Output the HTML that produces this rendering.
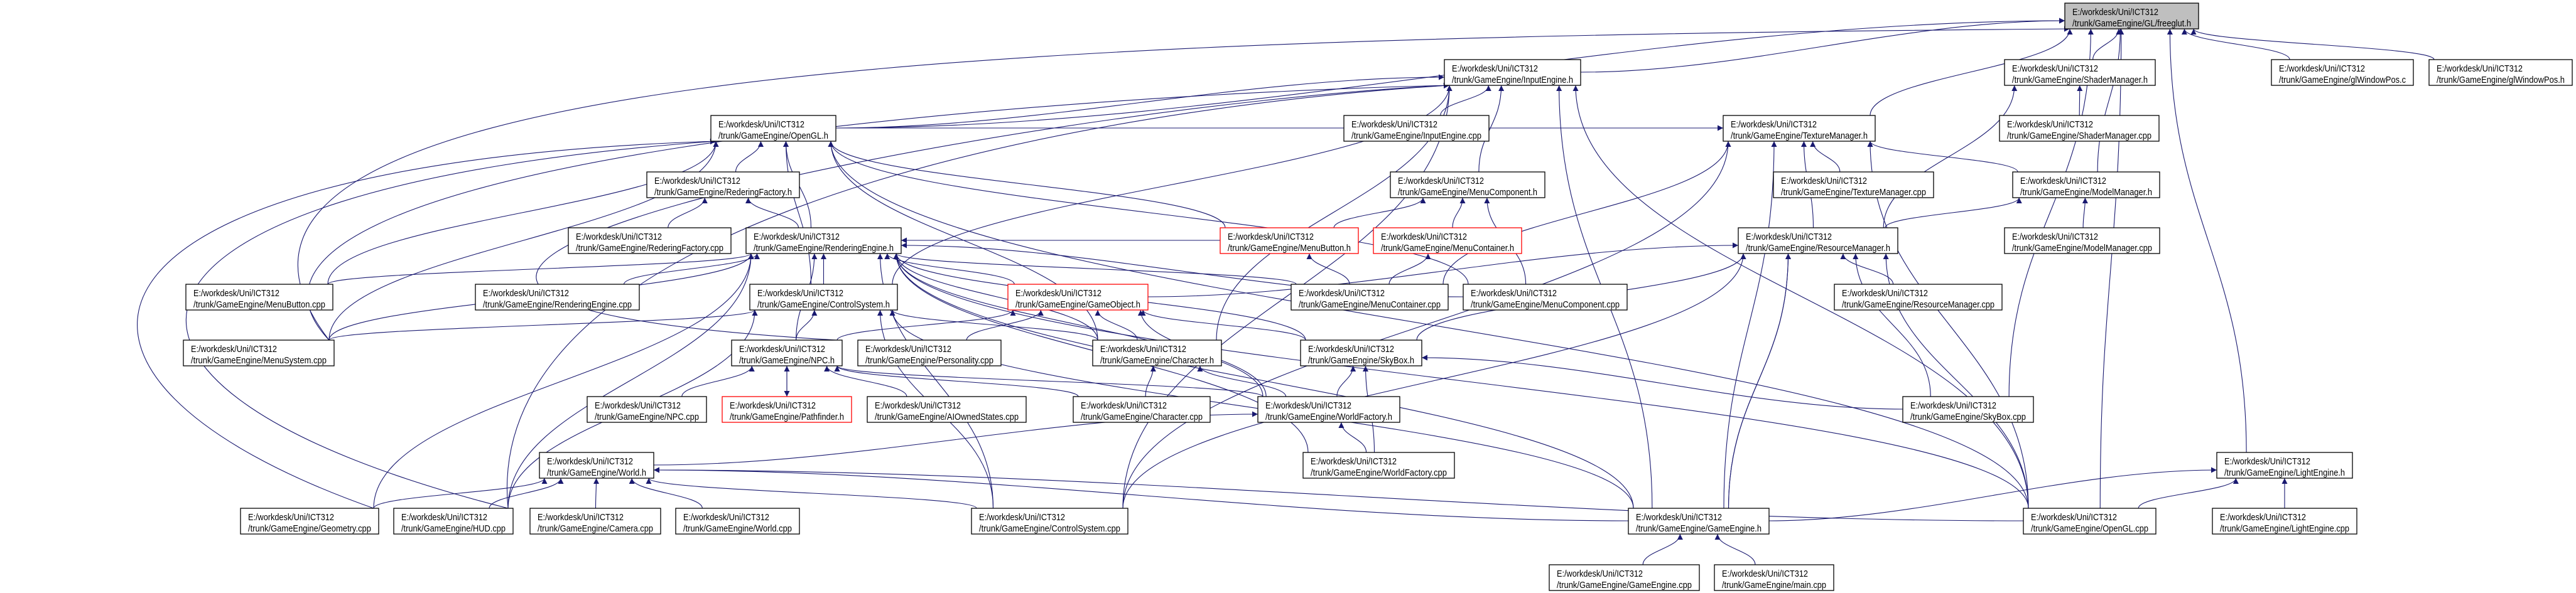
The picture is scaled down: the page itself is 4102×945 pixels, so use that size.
<!DOCTYPE html>
<html><head><meta charset="utf-8">
<style>
html,body{margin:0;padding:0;background:#fff;}
svg{display:block;}
text{font-family:"Liberation Sans",Arial,sans-serif;font-size:15px;fill:#000;}
</style></head>
<body>
<svg id="g" width="4102" height="945" viewBox="0 0 4102 945" xmlns="http://www.w3.org/2000/svg">
<defs>
<marker id="a" viewBox="0 0 10 10" refX="10" refY="5" markerWidth="11" markerHeight="9" orient="auto" markerUnits="userSpaceOnUse">
<path d="M0,0 L10,5 L0,10 z" fill="#191970"/>
</marker>
</defs>
<g id="edges" fill="none" stroke="#191970" stroke-width="1.1"></g>
<g id="nodes">
<rect x="3288" y="5" width="213" height="41" fill="#bfbfbf" stroke="#000" stroke-width="1.3"/><text x="3300" y="24" textLength="137" lengthAdjust="spacingAndGlyphs">E:/workdesk/Uni/ICT312</text><text x="3300" y="42" textLength="189" lengthAdjust="spacingAndGlyphs">/trunk/GameEngine/GL/freeglut.h</text>
<rect x="2300" y="95" width="217" height="41" fill="#fff" stroke="#000" stroke-width="1.3"/><text x="2312" y="114" textLength="137" lengthAdjust="spacingAndGlyphs">E:/workdesk/Uni/ICT312</text><text x="2312" y="132" textLength="193" lengthAdjust="spacingAndGlyphs">/trunk/GameEngine/InputEngine.h</text>
<rect x="3192" y="95" width="240" height="41" fill="#fff" stroke="#000" stroke-width="1.3"/><text x="3204" y="114" textLength="137" lengthAdjust="spacingAndGlyphs">E:/workdesk/Uni/ICT312</text><text x="3204" y="132" textLength="216" lengthAdjust="spacingAndGlyphs">/trunk/GameEngine/ShaderManager.h</text>
<rect x="3617" y="95" width="226" height="41" fill="#fff" stroke="#000" stroke-width="1.3"/><text x="3629" y="114" textLength="137" lengthAdjust="spacingAndGlyphs">E:/workdesk/Uni/ICT312</text><text x="3629" y="132" textLength="202" lengthAdjust="spacingAndGlyphs">/trunk/GameEngine/glWindowPos.c</text>
<rect x="3868" y="95" width="228" height="41" fill="#fff" stroke="#000" stroke-width="1.3"/><text x="3880" y="114" textLength="137" lengthAdjust="spacingAndGlyphs">E:/workdesk/Uni/ICT312</text><text x="3880" y="132" textLength="204" lengthAdjust="spacingAndGlyphs">/trunk/GameEngine/glWindowPos.h</text>
<rect x="1132" y="184" width="199" height="41" fill="#fff" stroke="#000" stroke-width="1.3"/><text x="1144" y="203" textLength="137" lengthAdjust="spacingAndGlyphs">E:/workdesk/Uni/ICT312</text><text x="1144" y="221" textLength="175" lengthAdjust="spacingAndGlyphs">/trunk/GameEngine/OpenGL.h</text>
<rect x="2140" y="184" width="231" height="41" fill="#fff" stroke="#000" stroke-width="1.3"/><text x="2152" y="203" textLength="137" lengthAdjust="spacingAndGlyphs">E:/workdesk/Uni/ICT312</text><text x="2152" y="221" textLength="207" lengthAdjust="spacingAndGlyphs">/trunk/GameEngine/InputEngine.cpp</text>
<rect x="2744" y="184" width="242" height="41" fill="#fff" stroke="#000" stroke-width="1.3"/><text x="2756" y="203" textLength="137" lengthAdjust="spacingAndGlyphs">E:/workdesk/Uni/ICT312</text><text x="2756" y="221" textLength="218" lengthAdjust="spacingAndGlyphs">/trunk/GameEngine/TextureManager.h</text>
<rect x="3184" y="184" width="254" height="41" fill="#fff" stroke="#000" stroke-width="1.3"/><text x="3196" y="203" textLength="137" lengthAdjust="spacingAndGlyphs">E:/workdesk/Uni/ICT312</text><text x="3196" y="221" textLength="230" lengthAdjust="spacingAndGlyphs">/trunk/GameEngine/ShaderManager.cpp</text>
<rect x="1030" y="274" width="243" height="41" fill="#fff" stroke="#000" stroke-width="1.3"/><text x="1042" y="293" textLength="137" lengthAdjust="spacingAndGlyphs">E:/workdesk/Uni/ICT312</text><text x="1042" y="311" textLength="219" lengthAdjust="spacingAndGlyphs">/trunk/GameEngine/RederingFactory.h</text>
<rect x="2214" y="274" width="246" height="41" fill="#fff" stroke="#000" stroke-width="1.3"/><text x="2226" y="293" textLength="137" lengthAdjust="spacingAndGlyphs">E:/workdesk/Uni/ICT312</text><text x="2226" y="311" textLength="222" lengthAdjust="spacingAndGlyphs">/trunk/GameEngine/MenuComponent.h</text>
<rect x="2824" y="274" width="255" height="41" fill="#fff" stroke="#000" stroke-width="1.3"/><text x="2836" y="293" textLength="137" lengthAdjust="spacingAndGlyphs">E:/workdesk/Uni/ICT312</text><text x="2836" y="311" textLength="231" lengthAdjust="spacingAndGlyphs">/trunk/GameEngine/TextureManager.cpp</text>
<rect x="3205" y="274" width="234" height="41" fill="#fff" stroke="#000" stroke-width="1.3"/><text x="3217" y="293" textLength="137" lengthAdjust="spacingAndGlyphs">E:/workdesk/Uni/ICT312</text><text x="3217" y="311" textLength="210" lengthAdjust="spacingAndGlyphs">/trunk/GameEngine/ModelManager.h</text>
<rect x="905" y="363" width="259" height="41" fill="#fff" stroke="#000" stroke-width="1.3"/><text x="917" y="382" textLength="137" lengthAdjust="spacingAndGlyphs">E:/workdesk/Uni/ICT312</text><text x="917" y="400" textLength="235" lengthAdjust="spacingAndGlyphs">/trunk/GameEngine/RederingFactory.cpp</text>
<rect x="1188" y="363" width="247" height="41" fill="#fff" stroke="#000" stroke-width="1.3"/><text x="1200" y="382" textLength="137" lengthAdjust="spacingAndGlyphs">E:/workdesk/Uni/ICT312</text><text x="1200" y="400" textLength="223" lengthAdjust="spacingAndGlyphs">/trunk/GameEngine/RenderingEngine.h</text>
<rect x="1943" y="363" width="220" height="41" fill="#fff" stroke="#f00" stroke-width="1.3"/><text x="1955" y="382" textLength="137" lengthAdjust="spacingAndGlyphs">E:/workdesk/Uni/ICT312</text><text x="1955" y="400" textLength="196" lengthAdjust="spacingAndGlyphs">/trunk/GameEngine/MenuButton.h</text>
<rect x="2187" y="363" width="236" height="41" fill="#fff" stroke="#f00" stroke-width="1.3"/><text x="2199" y="382" textLength="137" lengthAdjust="spacingAndGlyphs">E:/workdesk/Uni/ICT312</text><text x="2199" y="400" textLength="212" lengthAdjust="spacingAndGlyphs">/trunk/GameEngine/MenuContainer.h</text>
<rect x="2768" y="363" width="254" height="41" fill="#fff" stroke="#000" stroke-width="1.3"/><text x="2780" y="382" textLength="137" lengthAdjust="spacingAndGlyphs">E:/workdesk/Uni/ICT312</text><text x="2780" y="400" textLength="230" lengthAdjust="spacingAndGlyphs">/trunk/GameEngine/ResourceManager.h</text>
<rect x="3192" y="363" width="247" height="41" fill="#fff" stroke="#000" stroke-width="1.3"/><text x="3204" y="382" textLength="137" lengthAdjust="spacingAndGlyphs">E:/workdesk/Uni/ICT312</text><text x="3204" y="400" textLength="223" lengthAdjust="spacingAndGlyphs">/trunk/GameEngine/ModelManager.cpp</text>
<rect x="296" y="453" width="234" height="41" fill="#fff" stroke="#000" stroke-width="1.3"/><text x="308" y="472" textLength="137" lengthAdjust="spacingAndGlyphs">E:/workdesk/Uni/ICT312</text><text x="308" y="490" textLength="210" lengthAdjust="spacingAndGlyphs">/trunk/GameEngine/MenuButton.cpp</text>
<rect x="757" y="453" width="261" height="41" fill="#fff" stroke="#000" stroke-width="1.3"/><text x="769" y="472" textLength="137" lengthAdjust="spacingAndGlyphs">E:/workdesk/Uni/ICT312</text><text x="769" y="490" textLength="237" lengthAdjust="spacingAndGlyphs">/trunk/GameEngine/RenderingEngine.cpp</text>
<rect x="1194" y="453" width="235" height="41" fill="#fff" stroke="#000" stroke-width="1.3"/><text x="1206" y="472" textLength="137" lengthAdjust="spacingAndGlyphs">E:/workdesk/Uni/ICT312</text><text x="1206" y="490" textLength="211" lengthAdjust="spacingAndGlyphs">/trunk/GameEngine/ControlSystem.h</text>
<rect x="1605" y="453" width="223" height="41" fill="#fff" stroke="#f00" stroke-width="1.3"/><text x="1617" y="472" textLength="137" lengthAdjust="spacingAndGlyphs">E:/workdesk/Uni/ICT312</text><text x="1617" y="490" textLength="199" lengthAdjust="spacingAndGlyphs">/trunk/GameEngine/GameObject.h</text>
<rect x="2056" y="453" width="250" height="41" fill="#fff" stroke="#000" stroke-width="1.3"/><text x="2068" y="472" textLength="137" lengthAdjust="spacingAndGlyphs">E:/workdesk/Uni/ICT312</text><text x="2068" y="490" textLength="226" lengthAdjust="spacingAndGlyphs">/trunk/GameEngine/MenuContainer.cpp</text>
<rect x="2330" y="453" width="261" height="41" fill="#fff" stroke="#000" stroke-width="1.3"/><text x="2342" y="472" textLength="137" lengthAdjust="spacingAndGlyphs">E:/workdesk/Uni/ICT312</text><text x="2342" y="490" textLength="237" lengthAdjust="spacingAndGlyphs">/trunk/GameEngine/MenuComponent.cpp</text>
<rect x="2921" y="453" width="267" height="41" fill="#fff" stroke="#000" stroke-width="1.3"/><text x="2933" y="472" textLength="137" lengthAdjust="spacingAndGlyphs">E:/workdesk/Uni/ICT312</text><text x="2933" y="490" textLength="243" lengthAdjust="spacingAndGlyphs">/trunk/GameEngine/ResourceManager.cpp</text>
<rect x="292" y="542" width="240" height="41" fill="#fff" stroke="#000" stroke-width="1.3"/><text x="304" y="561" textLength="137" lengthAdjust="spacingAndGlyphs">E:/workdesk/Uni/ICT312</text><text x="304" y="579" textLength="216" lengthAdjust="spacingAndGlyphs">/trunk/GameEngine/MenuSystem.cpp</text>
<rect x="1165" y="542" width="176" height="41" fill="#fff" stroke="#000" stroke-width="1.3"/><text x="1177" y="561" textLength="137" lengthAdjust="spacingAndGlyphs">E:/workdesk/Uni/ICT312</text><text x="1177" y="579" textLength="152" lengthAdjust="spacingAndGlyphs">/trunk/GameEngine/NPC.h</text>
<rect x="1366" y="542" width="228" height="41" fill="#fff" stroke="#000" stroke-width="1.3"/><text x="1378" y="561" textLength="137" lengthAdjust="spacingAndGlyphs">E:/workdesk/Uni/ICT312</text><text x="1378" y="579" textLength="204" lengthAdjust="spacingAndGlyphs">/trunk/GameEngine/Personality.cpp</text>
<rect x="1740" y="542" width="205" height="41" fill="#fff" stroke="#000" stroke-width="1.3"/><text x="1752" y="561" textLength="137" lengthAdjust="spacingAndGlyphs">E:/workdesk/Uni/ICT312</text><text x="1752" y="579" textLength="181" lengthAdjust="spacingAndGlyphs">/trunk/GameEngine/Character.h</text>
<rect x="2071" y="542" width="193" height="41" fill="#fff" stroke="#000" stroke-width="1.3"/><text x="2083" y="561" textLength="137" lengthAdjust="spacingAndGlyphs">E:/workdesk/Uni/ICT312</text><text x="2083" y="579" textLength="169" lengthAdjust="spacingAndGlyphs">/trunk/GameEngine/SkyBox.h</text>
<rect x="935" y="632" width="190" height="41" fill="#fff" stroke="#000" stroke-width="1.3"/><text x="947" y="651" textLength="137" lengthAdjust="spacingAndGlyphs">E:/workdesk/Uni/ICT312</text><text x="947" y="669" textLength="166" lengthAdjust="spacingAndGlyphs">/trunk/GameEngine/NPC.cpp</text>
<rect x="1150" y="632" width="206" height="41" fill="#fff" stroke="#f00" stroke-width="1.3"/><text x="1162" y="651" textLength="137" lengthAdjust="spacingAndGlyphs">E:/workdesk/Uni/ICT312</text><text x="1162" y="669" textLength="182" lengthAdjust="spacingAndGlyphs">/trunk/GameEngine/Pathfinder.h</text>
<rect x="1381" y="632" width="253" height="41" fill="#fff" stroke="#000" stroke-width="1.3"/><text x="1393" y="651" textLength="137" lengthAdjust="spacingAndGlyphs">E:/workdesk/Uni/ICT312</text><text x="1393" y="669" textLength="229" lengthAdjust="spacingAndGlyphs">/trunk/GameEngine/AIOwnedStates.cpp</text>
<rect x="1709" y="632" width="218" height="41" fill="#fff" stroke="#000" stroke-width="1.3"/><text x="1721" y="651" textLength="137" lengthAdjust="spacingAndGlyphs">E:/workdesk/Uni/ICT312</text><text x="1721" y="669" textLength="194" lengthAdjust="spacingAndGlyphs">/trunk/GameEngine/Character.cpp</text>
<rect x="2003" y="632" width="226" height="41" fill="#fff" stroke="#000" stroke-width="1.3"/><text x="2015" y="651" textLength="137" lengthAdjust="spacingAndGlyphs">E:/workdesk/Uni/ICT312</text><text x="2015" y="669" textLength="202" lengthAdjust="spacingAndGlyphs">/trunk/GameEngine/WorldFactory.h</text>
<rect x="3030" y="632" width="208" height="41" fill="#fff" stroke="#000" stroke-width="1.3"/><text x="3042" y="651" textLength="137" lengthAdjust="spacingAndGlyphs">E:/workdesk/Uni/ICT312</text><text x="3042" y="669" textLength="184" lengthAdjust="spacingAndGlyphs">/trunk/GameEngine/SkyBox.cpp</text>
<rect x="859" y="721" width="182" height="41" fill="#fff" stroke="#000" stroke-width="1.3"/><text x="871" y="740" textLength="137" lengthAdjust="spacingAndGlyphs">E:/workdesk/Uni/ICT312</text><text x="871" y="758" textLength="158" lengthAdjust="spacingAndGlyphs">/trunk/GameEngine/World.h</text>
<rect x="2075" y="721" width="241" height="41" fill="#fff" stroke="#000" stroke-width="1.3"/><text x="2087" y="740" textLength="137" lengthAdjust="spacingAndGlyphs">E:/workdesk/Uni/ICT312</text><text x="2087" y="758" textLength="217" lengthAdjust="spacingAndGlyphs">/trunk/GameEngine/WorldFactory.cpp</text>
<rect x="3530" y="721" width="216" height="41" fill="#fff" stroke="#000" stroke-width="1.3"/><text x="3542" y="740" textLength="137" lengthAdjust="spacingAndGlyphs">E:/workdesk/Uni/ICT312</text><text x="3542" y="758" textLength="192" lengthAdjust="spacingAndGlyphs">/trunk/GameEngine/LightEngine.h</text>
<rect x="383" y="810" width="220" height="41" fill="#fff" stroke="#000" stroke-width="1.3"/><text x="395" y="829" textLength="137" lengthAdjust="spacingAndGlyphs">E:/workdesk/Uni/ICT312</text><text x="395" y="847" textLength="196" lengthAdjust="spacingAndGlyphs">/trunk/GameEngine/Geometry.cpp</text>
<rect x="627" y="810" width="190" height="41" fill="#fff" stroke="#000" stroke-width="1.3"/><text x="639" y="829" textLength="137" lengthAdjust="spacingAndGlyphs">E:/workdesk/Uni/ICT312</text><text x="639" y="847" textLength="166" lengthAdjust="spacingAndGlyphs">/trunk/GameEngine/HUD.cpp</text>
<rect x="844" y="810" width="208" height="41" fill="#fff" stroke="#000" stroke-width="1.3"/><text x="856" y="829" textLength="137" lengthAdjust="spacingAndGlyphs">E:/workdesk/Uni/ICT312</text><text x="856" y="847" textLength="184" lengthAdjust="spacingAndGlyphs">/trunk/GameEngine/Camera.cpp</text>
<rect x="1076" y="810" width="197" height="41" fill="#fff" stroke="#000" stroke-width="1.3"/><text x="1088" y="829" textLength="137" lengthAdjust="spacingAndGlyphs">E:/workdesk/Uni/ICT312</text><text x="1088" y="847" textLength="173" lengthAdjust="spacingAndGlyphs">/trunk/GameEngine/World.cpp</text>
<rect x="1547" y="810" width="249" height="41" fill="#fff" stroke="#000" stroke-width="1.3"/><text x="1559" y="829" textLength="137" lengthAdjust="spacingAndGlyphs">E:/workdesk/Uni/ICT312</text><text x="1559" y="847" textLength="225" lengthAdjust="spacingAndGlyphs">/trunk/GameEngine/ControlSystem.cpp</text>
<rect x="2593" y="810" width="224" height="41" fill="#fff" stroke="#000" stroke-width="1.3"/><text x="2605" y="829" textLength="137" lengthAdjust="spacingAndGlyphs">E:/workdesk/Uni/ICT312</text><text x="2605" y="847" textLength="200" lengthAdjust="spacingAndGlyphs">/trunk/GameEngine/GameEngine.h</text>
<rect x="3222" y="810" width="211" height="41" fill="#fff" stroke="#000" stroke-width="1.3"/><text x="3234" y="829" textLength="137" lengthAdjust="spacingAndGlyphs">E:/workdesk/Uni/ICT312</text><text x="3234" y="847" textLength="187" lengthAdjust="spacingAndGlyphs">/trunk/GameEngine/OpenGL.cpp</text>
<rect x="3523" y="810" width="230" height="41" fill="#fff" stroke="#000" stroke-width="1.3"/><text x="3535" y="829" textLength="137" lengthAdjust="spacingAndGlyphs">E:/workdesk/Uni/ICT312</text><text x="3535" y="847" textLength="206" lengthAdjust="spacingAndGlyphs">/trunk/GameEngine/LightEngine.cpp</text>
<rect x="2467" y="900" width="239" height="41" fill="#fff" stroke="#000" stroke-width="1.3"/><text x="2479" y="919" textLength="137" lengthAdjust="spacingAndGlyphs">E:/workdesk/Uni/ICT312</text><text x="2479" y="937" textLength="215" lengthAdjust="spacingAndGlyphs">/trunk/GameEngine/GameEngine.cpp</text>
<rect x="2730" y="900" width="190" height="41" fill="#fff" stroke="#000" stroke-width="1.3"/><text x="2742" y="919" textLength="137" lengthAdjust="spacingAndGlyphs">E:/workdesk/Uni/ICT312</text><text x="2742" y="937" textLength="166" lengthAdjust="spacingAndGlyphs">/trunk/GameEngine/main.cpp</text>
</g>
</svg>
<script>
(function(){
var N={
fg:[3288,5,213],ie:[2300,95,217],shm:[3192,95,240],wpc:[3617,95,226],wph:[3868,95,228],
ogh:[1132,184,199],iec:[2140,184,231],tmh:[2744,184,242],shc:[3184,184,254],
rfh:[1030,274,243],mch:[2214,274,246],tmc:[2824,274,255],mmh:[3205,274,234],
rfc:[905,363,259],reh:[1188,363,247],mbh:[1943,363,220],mcth:[2187,363,236],rmh:[2768,363,254],mmc:[3192,363,247],
mbc:[296,453,234],rec:[757,453,261],csh:[1194,453,235],goh:[1605,453,223],mctc:[2056,453,250],mcc:[2330,453,261],rmc:[2921,453,267],
msc:[292,542,240],npch:[1165,542,176],pers:[1366,542,228],chh:[1740,542,205],skh:[2071,542,193],
npcc:[935,632,190],pfh:[1150,632,206],aio:[1381,632,253],chc:[1709,632,218],wfh:[2003,632,226],skc:[3030,632,208],
wh:[859,721,182],wfc:[2075,721,241],leh:[3530,721,216],
geo:[383,810,220],hud:[627,810,190],cam:[844,810,208],wc:[1076,810,197],csc:[1547,810,249],geh:[2593,810,224],ogc:[3222,810,211],lec:[3523,810,230],
gec:[2467,900,239],main:[2730,900,190]};
var E=[
['ogh','fg'],['ie','fg'],['shm','fg'],['tmh','fg'],['mmh','fg'],['skc','fg'],['ogc','fg'],['leh','fg'],['wpc','fg'],['wph','fg'],['msc','fg',[200,120,1500,60]],
['iec','ie'],['mch','ie'],['geh','ie'],['csc','ie'],['chh','ie'],['csh','ie'],['ogc','ie'],['ogh','ie'],['msc','ie',[250,250,1700,150]],['npch','ie',[80,470,1600,170]],
['shc','shm'],['rmh','shm'],
['tmc','tmh'],['mmh','tmh'],['rmh','tmh'],['ogc','tmh'],['mctc','tmh'],['geh','tmh'],['csc','tmh'],['ogh','tmh'],
['mmc','mmh'],['rmh','mmh'],
['rmc','rmh'],['skc','rmh'],['ogc','rmh'],['geh','rmh'],['skh','rmh'],['csc','rmh'],['goh','rmh'],['geh','rmh'],
['mbh','mch'],['mcth','mch'],['mcc','mch'],
['mctc','mbh'],['mctc','mcth'],
['rfh','ogh'],['reh','ogh'],['mbc','ogh'],['msc','ogh'],['geo','ogh',[0,600,60,260]],['hud','ogh',[60,620,100,300]],['mcc','ogh'],['chh','ogh'],['ogc','ogh'],['mbh','ogh'],['csh','ogh'],
['rfc','rfh'],['reh','rfh'],
['rec','reh'],['mbc','reh'],['csh','reh'],['npch','reh'],['goh','reh'],['chh','reh'],['skh','reh'],['wfh','reh'],['mctc','reh'],['mcc','reh'],['mbh','reh'],['geh','reh'],['ogc','reh'],['geo','reh'],['hud','reh'],['msc','reh'],['csc','reh'],['wfc','reh'],
['msc','csh'],['npch','csh'],['chh','csh'],['hud','csh'],['csc','csh'],['geh','csh'],
['npch','goh'],['chh','goh'],['skh','goh'],['wfh','goh'],['pers','goh'],
['npcc','npch'],['pfh','npch'],['aio','npch'],['wfh','npch'],['chc','npch'],['npch','pfh'],
['chc','chh'],['wfh','chh'],['wfh','skh'],['skc','skh'],['wfc','skh'],
['wfc','wfh'],['wh','wfh'],
['geo','wh'],['hud','wh'],['cam','wh'],['wc','wh'],['csc','wh'],['geh','wh'],['ogc','wh'],['hud','ie',[760,300,1900,160]],
['gec','geh'],['main','geh'],
['lec','leh'],['geh','leh'],['ogc','leh']
];
var g=document.getElementById('edges'),ns='http://www.w3.org/2000/svg';
function cl(v,a,b){return Math.max(a,Math.min(b,v));}
E.forEach(function(e){
var s=N[e[0]],t=N[e[1]];if(!s||!t)return;
var scx=s[0]+s[2]/2,tcx=t[0]+t[2]/2,d;
var sx,sy,tx,ty;
if(Math.abs(s[1]-t[1])<5){
 if(scx<tcx){sx=s[0]+s[2];tx=t[0];}else{sx=s[0];tx=t[0]+t[2];}
 sy=s[1]+20;ty=t[1]+20;
 d='M'+sx+','+sy+' L'+tx+','+ty;
}else{
 var up=s[1]>t[1];
 sx=cl(scx+(tcx-scx)*0.25,s[0]+8,s[0]+s[2]-8);
 tx=cl(tcx+(scx-tcx)*0.25,t[0]+8,t[0]+t[2]-8);
 if(Math.abs(tcx-scx)>900&&Math.abs(s[1]-t[1])<200){
   // long horizontal: side anchors
   sy=s[1]+20;ty=t[1]+20+(up?8:-8);
   if(scx<tcx){sx=s[0]+s[2];tx=t[0];}else{sx=s[0];tx=t[0]+t[2];}
   d='M'+sx+','+sy+' C'+((sx*2+tx)/3)+','+sy+' '+((sx+tx*2)/3)+','+ty+' '+tx+','+ty;
 }else{
 sy=up?s[1]:s[1]+41;ty=up?t[1]+41:t[1];
 var k=(sy-ty)*0.45;
 if(e[2]){var c=e[2];d='M'+sx+','+sy+' C'+c[0]+','+c[1]+' '+c[2]+','+c[3]+' '+tx+','+ty;}
 else d='M'+sx+','+sy+' C'+sx+','+(sy-k)+' '+tx+','+(ty+k)+' '+tx+','+ty;
 }
 if(e[2]&&!d.match(/C\d/)){}
}
var p=document.createElementNS(ns,'path');p.setAttribute('d',d);p.setAttribute('marker-end','url(#a)');g.appendChild(p);
});
})();
</script>
</body></html>
